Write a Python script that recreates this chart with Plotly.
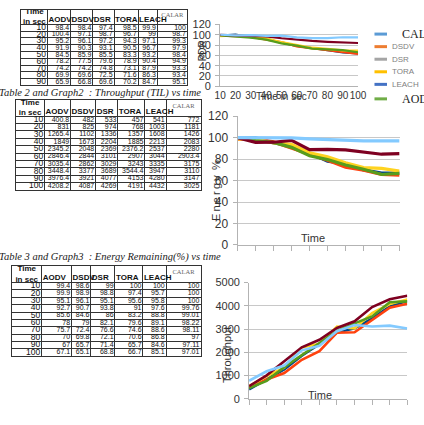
import plotly.graph_objects as go

W, H = 424, 425

# ---------------- data ----------------
protocols = ["AODV", "DSDV", "DSR", "TORA", "LEACH", "CALAR"]

# Table 1 : PDR
pdr_time = [10, 20, 30, 40, 50, 60, 70, 80, 90]
pdr_aodv = [98.4, 100.4, 95.2, 91.9, 84.5, 78.2, 74.2, 69.9, 65.9]
pdr_dsdv = [98.4, 97.1, 96.1, 90.3, 85.9, 77.5, 74.2, 69.6, 66.8]
pdr_dsr = [97.4, 98.7, 97.2, 93.1, 85.5, 79.6, 74.8, 72.5, 69.6]
pdr_tora = [98.5, 96.7, 94.3, 90.5, 83.3, 78.9, 73.1, 71.6, 70.2]
pdr_leach = [99.9, 99, 97.1, 96.7, 93.2, 90.4, 87.9, 86.3, 84.7]
pdr_calar = [100, 98.7, 99.3, 97.9, 98.4, 94.9, 93.3, 93.4, 95.1]
# values the PDR graph shows at t=100
pdr_graph_time_extra = 100
pdr_graph_extra = [64, 63, 69, 66, 84, 95]

# Table 2 : Throughput
thr_time = [10, 20, 30, 40, 50, 60, 70, 80, 90, 100]
thr_aodv = [400.8, 831, 1265.4, 1849, 2345.2, 2846.4, 3035.4, 3448.4, 3976.4, 4208.2]
thr_dsdv = [482, 825, 1102, 1673, 2048, 2844, 2862, 3377, 3921, 4087]
thr_dsr = [533, 974, 1336, 2204, 2369, 3101, 3029, 3689, 4077, 4269]
thr_tora = [457, 768, 1357, 1885, 2376.2, 2907, 3243, 3544.4, 4153, 4191]
thr_leach = [541, 1003, 1608, 2213, 2537, 3044, 3335, 3947, 4280, 4432]
thr_calar = [772, 1181, 1426, 2083, 2280, 2903.4, 3175, 3110, 3147, 3025]

# Table 3 : Energy remaining
en_time = [10, 20, 30, 40, 50, 60, 70, 80, 90, 100]
en_aodv = [99.4, 99.9, 95.1, 92.7, 85.6, 78, 75.7, 70, 67, 67.1]
en_dsdv = [98.6, 98.9, 96.1, 90.7, 84.6, 79, 72.4, 69.8, 65.7, 65.1]
en_dsr = [99, 98.8, 95.1, 93.8, 86, 82.1, 76.6, 72.1, 71.4, 68.8]
en_tora = [100, 97.4, 95.6, 91, 83.2, 79.6, 74.6, 70.6, 65.7, 66.7]
en_leach = [100, 95.7, 95.8, 97.6, 88.8, 89.1, 88.6, 86.8, 84.6, 85.1]
en_calar = [100, 100, 100, 99.76, 99.01, 98.22, 98.11, 97, 97.11, 97.01]

line_colors = ["#004586", "#ff420e", "#ffd320", "#579d1c", "#7e0021", "#83caff"]
legend_names = ["CALAR", "DSDV", "DSR", "TORA", "LEACH", "AODV"]
legend_colors = ["#5b9bd5", "#ed7d31", "#a5a5a5", "#ffc000", "#4472c4", "#70ad47"]

# ---------------- helpers ----------------
def dx(a, b):
    return [a / W, b / W]

def dy(top, bottom):
    return [1 - bottom / H, 1 - top / H]

def ax_names(i):
    return ("x" if i == 1 else f"x{i}", "y" if i == 1 else f"y{i}",
            "xaxis" if i == 1 else f"xaxis{i}", "yaxis" if i == 1 else f"yaxis{i}")

def fmt(v):
    return f"{v:g}"

fig = go.Figure()
layout_axes = {}

SANS = "Liberation Sans, Arial, sans-serif"
SERIF = "Liberation Serif, Times New Roman, serif"

def add_table(i, edges, top, header_h, row_h, times, cols):
    xr, yr, xk, yk = ax_names(i)
    n = len(times)
    bottom = top + header_h + n * row_h
    rows = [top + header_h + k * row_h for k in range(n + 1)]
    layout_axes[xk] = dict(domain=dx(edges[0], edges[-1]), range=[edges[0], edges[-1]],
                           anchor=yr,
                           tickvals=edges[1:-1], showgrid=True, gridcolor="#333", gridwidth=1,
                           showticklabels=False, ticks="", zeroline=False, showline=True,
                           mirror=True, linecolor="#333", linewidth=1, fixedrange=True)
    layout_axes[yk] = dict(domain=dy(top, bottom), range=[bottom, top], anchor=xr,
                           tickvals=rows[:-1], showgrid=True, gridcolor="#333", gridwidth=1,
                           showticklabels=False, ticks="", zeroline=False, showline=True,
                           mirror=True, linecolor="#333", linewidth=1, fixedrange=True)
    centers = [top + header_h + (k + 0.5) * row_h for k in range(n)]
    # time column
    fig.add_trace(go.Scatter(x=[edges[1] - 1.5] * n, y=centers, text=[fmt(t) for t in times],
                             mode="text", textposition="middle left",
                             textfont=dict(size=8.5, family=SANS, color="#111"),
                             xaxis=xr, yaxis=yr, hoverinfo="skip", showlegend=False,
                             cliponaxis=False))
    for c, vals in enumerate(cols):
        fig.add_trace(go.Scatter(x=[edges[c + 2] - 1.5] * n, y=centers,
                                 text=[fmt(v) for v in vals], mode="text",
                                 textposition="middle left",
                                 textfont=dict(size=7, family=SANS, color="#111"),
                                 xaxis=xr, yaxis=yr, hoverinfo="skip", showlegend=False,
                                 cliponaxis=False))
    # header
    fig.add_trace(go.Scatter(x=[(edges[0] + edges[1]) / 2], y=[top + header_h / 2],
                             text=["<b>Time<br>in sec</b>"], mode="text",
                             textposition="middle center",
                             textfont=dict(size=8, family=SANS, color="#111"),
                             xaxis=xr, yaxis=yr, hoverinfo="skip", showlegend=False,
                             cliponaxis=False))
    fig.add_trace(go.Scatter(x=[e + 1 for e in edges[1:6]], y=[top + header_h * 0.72] * 5,
                             text=[f"<b>{p}</b>" for p in protocols[:5]], mode="text",
                             textposition="middle right",
                             textfont=dict(size=8, family=SANS, color="#111"),
                             xaxis=xr, yaxis=yr, hoverinfo="skip", showlegend=False,
                             cliponaxis=True))
    fig.add_trace(go.Scatter(x=[(edges[6] + edges[7]) / 2], y=[top + header_h * 0.4],
                             text=[protocols[5]], mode="text", textposition="middle center",
                             textfont=dict(size=6.5, family=SERIF, color="#666"),
                             xaxis=xr, yaxis=yr, hoverinfo="skip", showlegend=False,
                             cliponaxis=False))

add_table(1, [16, 43, 67, 90, 112, 137, 157, 188], 3, 15, 7, pdr_time,
          [pdr_aodv, pdr_dsdv, pdr_dsr, pdr_tora, pdr_leach, pdr_calar])
add_table(2, [10, 40, 67, 93, 116, 144, 166, 202], 96, 17, 7.6, thr_time,
          [thr_aodv, thr_dsdv, thr_dsr, thr_tora, thr_leach, thr_calar])
add_table(3, [6, 37, 68, 88, 113, 142, 166, 202], 268, 17, 7.6, en_time,
          [en_aodv, en_dsdv, en_dsr, en_tora, en_leach, en_calar])

# ---------------- charts ----------------
def add_chart(i, xdom, ydom, times, series, ymax, dtick, width, ticklabels, fsize, xfsize):
    xr, yr, xk, yk = ax_names(i)
    for name, vals, col in zip(protocols, series, line_colors):
        fig.add_trace(go.Scatter(x=times, y=vals, mode="lines", name=name,
                                 line=dict(color=col, width=width),
                                 xaxis=xr, yaxis=yr, showlegend=False))
    layout_axes[xk] = dict(domain=dx(*xdom), range=[10, 100], tickvals=list(range(10, 101, 10)),
                           anchor=yr, tickangle=0,
                           showticklabels=ticklabels, showgrid=False, zeroline=False,
                           showline=True, linecolor="#b3b3b3", linewidth=1,
                           ticks="" if ticklabels else "outside", ticklen=5,
                           tickcolor="#b3b3b3",
                           tickfont=dict(size=xfsize, family=SANS, color="#333"),
                           fixedrange=True)
    layout_axes[yk] = dict(domain=dy(*ydom), range=[0, ymax], dtick=dtick, showgrid=True,
                           anchor=xr,
                           gridcolor="#c8c8c8", gridwidth=1, zeroline=False, showline=True,
                           linecolor="#b3b3b3", linewidth=1, ticks="outside", ticklen=4,
                           tickcolor="#b3b3b3", ticklabelstandoff=2,
                           tickfont=dict(size=fsize, family=SANS, color="#333"),
                           fixedrange=True)

add_chart(4, (222, 365), (18, 82), pdr_time + [pdr_graph_time_extra],
          [s + [e] for s, e in zip([pdr_aodv, pdr_dsdv, pdr_dsr, pdr_tora, pdr_leach, pdr_calar],
                                   pdr_graph_extra)],
          120, 20, 2.2, True, 11, 10)
add_chart(5, (240, 408), (113, 246), en_time,
          [en_aodv, en_dsdv, en_dsr, en_tora, en_leach, en_calar], 120, 20, 3.2, False, 12, 12)
add_chart(6, (252, 416), (285, 405), thr_time,
          [thr_aodv, thr_dsdv, thr_dsr, thr_tora, thr_leach, thr_calar], 5000, 1000, 2.6, False,
          11, 11)

# ---------------- annotations ----------------
ann = []
def text(x, y, s, size, family=SANS, color="#333", angle=0, xanchor="center", italic=False):
    ann.append(dict(x=x / W, y=1 - y / H, xref="paper", yref="paper", text=s, showarrow=False,
                    textangle=angle, xanchor=xanchor, yanchor="middle",
                    font=dict(size=size, family=family, color=color,
                              style="italic" if italic else "normal")))

text(-9.5, 89, "Table 2 and Graph2 \u00a0: Throughput (TIL) vs time", 10.5, SERIF, "#222",
     xanchor="left", italic=True)
text(-9.5, 258, "Table 3 and Graph3 \u00a0: Energy Remaining(%) vs time", 10.5, SERIF, "#222",
     xanchor="left", italic=True)

text(204, 45, "PDR", 10, angle=-90)
text(286, 93, "Time in sec", 10)
text(217, 190, "E\u2009n\u2009e\u2009r\u2009g\u2009y\u2009 %", 11, angle=-90)
text(318, 239, "Time", 11)
text(229, 360, "Throughput", 11, angle=-90)
text(326, 401, "Time", 11)

# legend of the PDR graph
shapes = []
leg_y = [28, 41, 54, 67, 80, 95]
for name, col, yy in zip(legend_names, legend_colors, leg_y):
    shapes.append(dict(type="line", xref="paper", yref="paper", x0=382 / W, x1=395 / W,
                       y0=1 - yy / H, y1=1 - yy / H, line=dict(color=col, width=3)))
    if name in ("CALAR", "AODV"):
        text(408, yy, name, 12, SERIF, "#222", xanchor="left")
    else:
        text(398, yy, name, 8, SANS, "#808080", xanchor="left")

fig.update_layout(width=W, height=H, margin=dict(l=0, r=0, t=0, b=0),
                  paper_bgcolor="white", plot_bgcolor="white", showlegend=False,
                  annotations=ann, shapes=shapes, **layout_axes)

fig.write_html("out.html")
